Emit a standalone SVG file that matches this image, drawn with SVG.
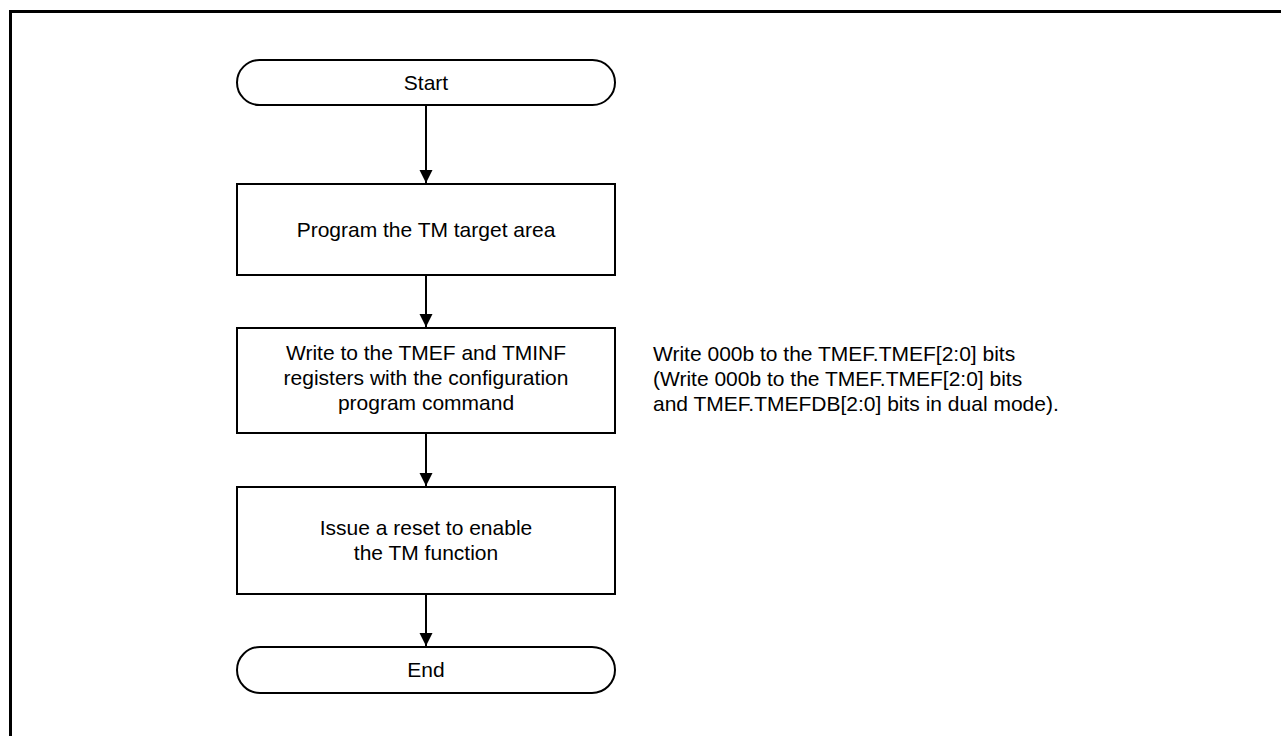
<svg xmlns="http://www.w3.org/2000/svg" width="1281" height="736" viewBox="0 0 1281 736">
<style>
.shape{fill:#fff;stroke:#000;stroke-width:2}
.t{font-family:"Liberation Sans",Arial,sans-serif;font-size:21px;fill:#000;text-anchor:middle}
.n{font-family:"Liberation Sans",Arial,sans-serif;font-size:21px;fill:#000}
.c{stroke:#000;stroke-width:2;fill:none}
</style>
<defs>
<marker id="ah" markerUnits="userSpaceOnUse" markerWidth="14" markerHeight="14" refX="13" refY="6.5" orient="auto">
<path d="M0,0 L13,6.5 L0,13 Z" fill="#000"/>
</marker>
</defs>
<rect width="1281" height="736" fill="#fff"/>
<g id="frame">
<path d="M10.5,736 V11.5 H1281" fill="none" stroke="#000" stroke-width="3"/>
</g>
<g id="connectors">
<path class="c" d="M426,105 V183" marker-end="url(#ah)"/>
<path class="c" d="M426,275 V327" marker-end="url(#ah)"/>
<path class="c" d="M426,433 V486" marker-end="url(#ah)"/>
<path class="c" d="M426,594 V646" marker-end="url(#ah)"/>
</g>
<g id="start">
<rect class="shape" x="237" y="60" width="378" height="45" rx="22.5"/>
<text class="t" x="426" y="90">Start</text>
</g>
<g id="program">
<rect class="shape" x="237" y="184" width="378" height="91"/>
<text class="t" x="426" y="237">Program the TM target area</text>
</g>
<g id="write">
<rect class="shape" x="237" y="328" width="378" height="105"/>
<text class="t" x="426" y="360">Write to the TMEF and TMINF</text>
<text class="t" x="426" y="385">registers with the configuration</text>
<text class="t" x="426" y="410">program command</text>
</g>
<g id="note">
<text class="n" x="653" y="361">Write 000b to the TMEF.TMEF[2:0] bits</text>
<text class="n" x="653" y="386">(Write 000b to the TMEF.TMEF[2:0] bits</text>
<text class="n" x="653" y="411">and TMEF.TMEFDB[2:0] bits in dual mode).</text>
</g>
<g id="reset">
<rect class="shape" x="237" y="487" width="378" height="107"/>
<text class="t" x="426" y="535">Issue a reset to enable</text>
<text class="t" x="426" y="560">the TM function</text>
</g>
<g id="end">
<rect class="shape" x="237" y="647" width="378" height="46" rx="23"/>
<text class="t" x="426" y="677">End</text>
</g>
</svg>
